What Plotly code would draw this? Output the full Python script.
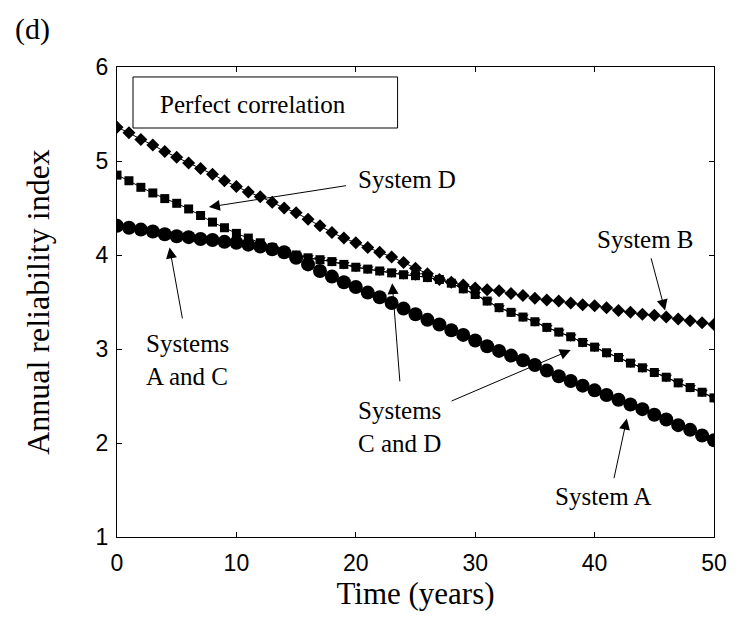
import plotly.graph_objects as go

# Time axis (years) and annual reliability index for each system
years = list(range(0, 51))

system_a = [4.31, 4.29, 4.27, 4.25, 4.22, 4.20, 4.19, 4.17, 4.16, 4.14,
            4.13, 4.11, 4.09, 4.06, 4.03, 3.97, 3.90, 3.83, 3.77, 3.71,
            3.66, 3.60, 3.55, 3.49, 3.43, 3.37, 3.31, 3.26, 3.20, 3.15,
            3.09, 3.03, 2.98, 2.93, 2.88, 2.83, 2.77, 2.71, 2.66, 2.61,
            2.56, 2.51, 2.46, 2.41, 2.36, 2.30, 2.25, 2.19, 2.14, 2.08,
            2.03]

system_b = [5.36, 5.30, 5.23, 5.17, 5.10, 5.04, 4.98, 4.92, 4.86, 4.79,
            4.73, 4.67, 4.62, 4.56, 4.50, 4.45, 4.38, 4.31, 4.24, 4.18,
            4.13, 4.08, 4.03, 3.98, 3.92, 3.86, 3.80, 3.74, 3.71, 3.68,
            3.65, 3.63, 3.62, 3.59, 3.57, 3.54, 3.52, 3.51, 3.49, 3.47,
            3.46, 3.44, 3.41, 3.39, 3.37, 3.36, 3.34, 3.32, 3.30, 3.28,
            3.26]

system_c = [4.31, 4.29, 4.27, 4.25, 4.22, 4.20, 4.19, 4.17, 4.16, 4.14,
            4.13, 4.11, 4.09, 4.06, 4.03, 4.00, 3.97, 3.95, 3.93, 3.90,
            3.87, 3.85, 3.83, 3.81, 3.79, 3.78, 3.76, 3.74, 3.70, 3.64,
            3.58, 3.51, 3.44, 3.39, 3.34, 3.29, 3.23, 3.18, 3.13, 3.07,
            3.02, 2.96, 2.91, 2.85, 2.80, 2.75, 2.70, 2.64, 2.59, 2.54,
            2.48]

system_d = [4.85, 4.79, 4.72, 4.66, 4.60, 4.55, 4.49, 4.42, 4.35, 4.29,
            4.23, 4.18, 4.13, 4.08, 4.03, 4.00, 3.97, 3.95, 3.93, 3.90,
            3.87, 3.85, 3.83, 3.81, 3.79, 3.78, 3.76, 3.74, 3.70, 3.64,
            3.58, 3.51, 3.44, 3.39, 3.34, 3.29, 3.23, 3.18, 3.13, 3.07,
            3.02, 2.96, 2.91, 2.85, 2.80, 2.75, 2.70, 2.64, 2.59, 2.54,
            2.48]

x_ticks = [0, 10, 20, 30, 40, 50]
y_ticks = [1, 2, 3, 4, 5, 6]

SERIF = "Liberation Serif, Times New Roman, serif"
SANS = "Liberation Sans, Arial, sans-serif"
INK = "black"

fig = go.Figure()


def add_series(values, symbol, size, name):
    fig.add_trace(go.Scatter(
        x=years, y=values, mode="lines+markers", name=name,
        line=dict(color=INK, width=1),
        marker=dict(symbol=symbol, size=size, color=INK,
                    line=dict(width=0)),
        showlegend=False, hoverinfo="x+y+name",
    ))


add_series(system_c, "triangle-down", 10, "System C")
add_series(system_a, "circle", 14, "System A")
add_series(system_d, "square", 9, "System D")
add_series(system_b, "diamond", 10, "System B")

# Text labels with arrows pointing at the curves
arrow_style = dict(showarrow=True, arrowhead=2, arrowsize=2.2,
                   arrowwidth=1, arrowcolor=INK, axref="x", ayref="y",
                   xref="x", yref="y")
label_font = dict(family=SERIF, size=25, color=INK)

arrows = [
    # (tip x, tip y, tail x, tail y)
    (7.7, 4.51, 19.3, 4.74),    # System D
    (45.9, 3.41, 44.7, 3.98),   # System B
    (4.4, 4.08, 5.5, 3.31),     # Systems A and C
    (23.05, 3.70, 23.7, 2.64),  # Systems C and D (upper)
    (38.0, 2.99, 27.9, 2.44),   # Systems C and D (lower)
    (42.7, 2.26, 41.6, 1.61),   # System A
]
for tx, ty, sx, sy in arrows:
    fig.add_annotation(x=tx, y=ty, ax=sx, ay=sy, text="", **arrow_style)

labels = [
    ("System D", 20.0, 4.80, "left"),
    ("System B", 44.3, 4.16, "center"),
    ("Systems<br>A and C", 2.3, 2.88, "left"),
    ("Systems<br>C and D", 20.0, 2.17, "left"),
    ("System A", 36.5, 1.43, "left"),
]
for text, x, y, anchor in labels:
    fig.add_annotation(x=x, y=y, text=text, showarrow=False, xanchor=anchor,
                       yanchor="middle", align="left", font=label_font,
                       xref="x", yref="y")

# Boxed caption inside the axes
fig.add_shape(type="rect", xref="x", yref="y", x0=1.34, x1=23.5,
              y0=5.351, y1=5.894, line=dict(color=INK, width=1),
              fillcolor="white", layer="above")
fig.add_annotation(x=3.43, y=5.60, text="Perfect correlation", showarrow=False,
                   xanchor="left", yanchor="middle", font=label_font,
                   xref="x", yref="y")

# Panel tag
fig.add_annotation(x=-104 / 597, y=1 + 38 / 470, text="(d)", showarrow=False,
                   xanchor="left", yanchor="middle", xref="paper", yref="paper",
                   font=dict(family=SERIF, size=30, color=INK))

axis_common = dict(showline=True, linecolor=INK, linewidth=1.3, mirror="ticks",
                   ticks="inside", ticklen=5, tickwidth=1, tickcolor=INK,
                   showgrid=False, zeroline=False,
                   tickfont=dict(family=SANS, size=23, color=INK))

fig.update_layout(
    width=742, height=620,
    margin=dict(l=117, r=28, t=67, b=83),
    paper_bgcolor="white", plot_bgcolor="white",
    xaxis=dict(range=[0, 50], tickvals=x_ticks, ticklabelstandoff=5,
               title=dict(text="Time (years)", standoff=2,
                          font=dict(family=SERIF, size=31, color=INK)),
               **axis_common),
    yaxis=dict(range=[1, 6], tickvals=y_ticks, ticklabelstandoff=3,
               title=dict(text="Annual reliability index", standoff=36,
                          font=dict(family=SERIF, size=32, color=INK)),
               **axis_common),
)

fig.write_html("out.html")
